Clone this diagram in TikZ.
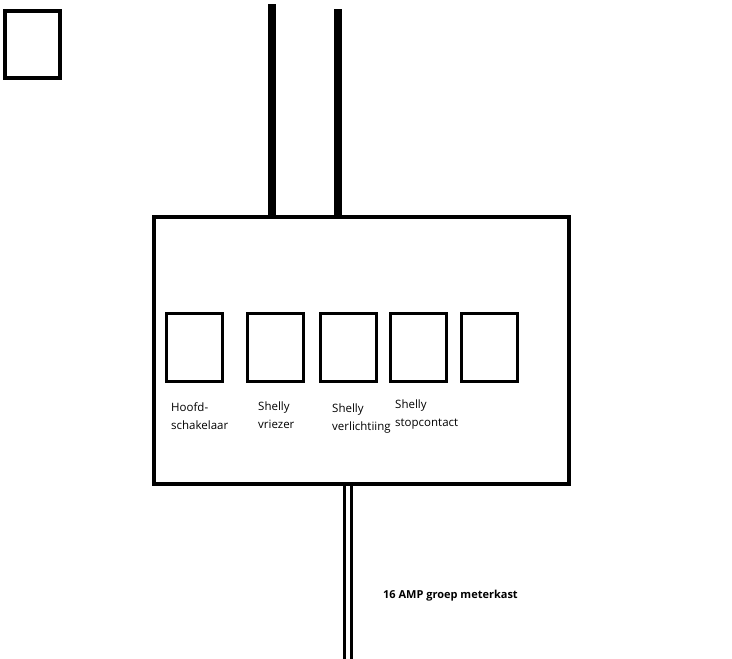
\documentclass[tikz,border=0pt]{standalone}
\usepackage{fontspec}
\setmainfont{Open Sans}
\begin{document}
\begin{tikzpicture}[x=1pt,y=-1pt,
  sbox/.style={draw,line width=3pt},
  lbl/.style={anchor=north west,align=left,font=\fontsize{11.5}{18}\selectfont,inner sep=0pt}]
\useasboundingbox (0,0) rectangle (732,659);
\draw[line width=3.5pt] (5,11) rectangle (60,78);
\coordinate (w1t) at (272,4); \coordinate (w1b) at (272,215);
\coordinate (w2t) at (338,9); \coordinate (w2b) at (338,215);
\draw[line width=8pt] (w1t) -- (w1b);
\draw[line width=8pt] (w2t) -- (w2b);
\node[draw,line width=3.5pt,minimum width=415pt,minimum height=267pt,anchor=north west,inner sep=0pt] (main) at (152,215) {};
\foreach \x/\n in {165/a,246/b,319/c,389/d,460/e}
  \node[sbox,minimum width=56pt,minimum height=68pt,anchor=north west,inner sep=0pt] (\n) at (\x,312) {};
\node[lbl] (la) at (171,402) {Hoofd-\\schakelaar};
\node[lbl] (lb) at (258,402) {Shelly\\vriezer};
\node[lbl] (lc) at (332,404) {Shelly\\verlichtiing};
\node[lbl] (ld) at (395,400) {Shelly\\stopcontact};
\coordinate (c1) at (344.5,482); \coordinate (c1b) at (344.5,659);
\coordinate (c2) at (351,482); \coordinate (c2b) at (351,659);
\draw[line width=3pt] (c1) -- (c1b);
\draw[line width=3pt] (c2) -- (c2b);
\node[lbl,font=\bfseries\fontsize{11}{14}\selectfont] (g) at (383,590) {16 AMP groep meterkast};
\end{tikzpicture}
\end{document}
